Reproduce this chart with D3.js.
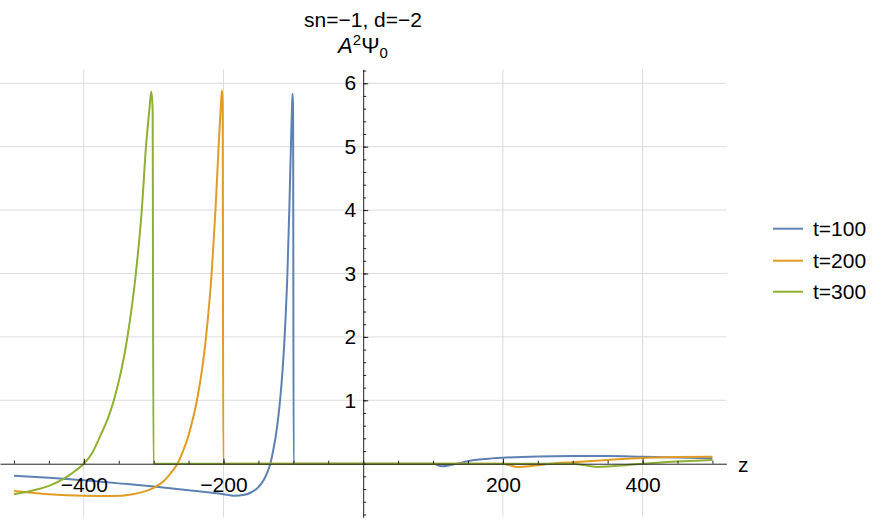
<!DOCTYPE html>
<html>
<head>
<meta charset="utf-8">
<script src="https://cdn.jsdelivr.net/npm/d3@7"></script>
<style>
  body { margin: 0; background: #fff; }
  svg { display: block; font-family: "Liberation Sans", Arial, sans-serif; }
</style>
</head>
<body>
<svg id="chart" width="882" height="521"></svg>
<script>
// series names and colours
var seriesNames = ["t=100", "t=200", "t=300"];
var seriesColors = ["#5e81b5", "#e19c24", "#8fb032"];

// t=100
var z100 = [-500, -450, -400, -350, -300, -250, -200, -185, -170, -160, -150, -142, -137, -133, -129, -125, -122, -119, -112.5, -108.5, -105.8, -103.5, -102, -101.1, -100.4, -99.6,
            0, 100, 113, 125, 134, 150, 175, 200, 250, 300, 350, 400, 450, 500];
var v100 = [-0.19, -0.22, -0.26, -0.31, -0.36, -0.42, -0.48, -0.505, -0.49, -0.45, -0.37, -0.25, -0.13, 0, 0.2, 0.45, 0.7, 1.0, 2.0, 3.0, 4.0, 5.0, 5.6, 5.84, 5.6, 0,
            0, 0, -0.04, -0.02, 0, 0.04, 0.075, 0.095, 0.115, 0.12, 0.12, 0.11, 0.1, 0.085];

// t=200
var z200 = [-500, -450, -400, -360, -330, -300, -285, -275, -266, -258, -250, -244, -238, -225, -217, -211.5, -207, -204, -202.2, -201.2, -200.3,
            0, 200, 220, 245, 268, 300, 350, 400, 450, 500];
var v200 = [-0.43, -0.48, -0.505, -0.51, -0.48, -0.38, -0.27, -0.14, 0, 0.2, 0.45, 0.7, 1.0, 2.0, 3.0, 4.0, 5.0, 5.6, 5.89, 5.65, 0,
            0, 0, -0.05, -0.03, 0, 0.025, 0.06, 0.09, 0.105, 0.11];

// t=300
var z300 = [-500, -476, -450, -425, -412, -400, -388, -376, -366, -357, -337.5, -325.5, -317, -311, -306, -303.5, -301.5, -300.3,
            0, 300, 336, 370, 400, 450, 500];
var v300 = [-0.48, -0.43, -0.35, -0.21, -0.11, 0, 0.17, 0.45, 0.7, 1.0, 2.0, 3.0, 4.0, 5.0, 5.6, 5.87, 5.6, 0,
            0, 0, -0.05, -0.03, 0, 0.035, 0.06];

// ticks
var xMajorTicks = [-400, -200, 200, 400];
var yMajorTicks = [1, 2, 3, 4, 5, 6];

var seriesZ = [z100, z200, z300];
var seriesV = [v100, v200, v300];

var svg = d3.select("#chart");

var x = d3.scaleLinear().domain([-520, 520]).range([0, 726.4]);
var y = d3.scaleLinear().domain([-0.845, 6.22]).range([517.3, 69.3]);

// grid
svg.append("g").selectAll("line").data(xMajorTicks).enter().append("line")
    .attr("x1", function(d) { return x(d); })
    .attr("x2", function(d) { return x(d); })
    .attr("y1", y.range()[1])
    .attr("y2", y.range()[0])
    .attr("stroke", "#dcdcdc")
    .attr("stroke-width", 1);

svg.append("g").selectAll("line").data(yMajorTicks).enter().append("line")
    .attr("x1", x.range()[0])
    .attr("x2", x.range()[1])
    .attr("y1", function(d) { return y(d); })
    .attr("y2", function(d) { return y(d); })
    .attr("stroke", "#dcdcdc")
    .attr("stroke-width", 1);

// curves
var line = d3.line()
    .x(function(d) { return x(d[0]); })
    .y(function(d) { return y(d[1]); })
    .curve(d3.curveMonotoneX);

seriesNames.forEach(function(name, i) {
    var pts = seriesZ[i].map(function(z, j) { return [z, seriesV[i][j]]; });
    svg.append("path")
        .datum(pts)
        .attr("d", line)
        .attr("fill", "none")
        .attr("stroke", seriesColors[i])
        .attr("stroke-width", 2)
        .attr("stroke-linejoin", "round");
});

// x axis
var x0 = y(0);
var xMinor = d3.axisBottom(x).tickValues(d3.range(-500, 501, 50)).tickFormat("")
    .tickSizeInner(-3).tickSizeOuter(0);
svg.append("g").attr("transform", "translate(0," + x0 + ")").call(xMinor)
    .call(function(g) { g.select(".domain").remove(); });

var xAxis = d3.axisBottom(x).tickValues(xMajorTicks)
    .tickFormat(function(d) { return d3.format("d")(d).replace("-", "\u2212"); })
    .tickSizeInner(-5).tickSizeOuter(0).tickPadding(13);
var gx = svg.append("g").attr("transform", "translate(0," + x0 + ")").call(xAxis);
gx.select(".domain").attr("stroke", "#222");
gx.selectAll("text").attr("font-size", 21).attr("fill", "#000")
    .attr("font-family", "Liberation Sans, Arial, sans-serif");

// y axis
var y0 = x(0);
var yMinor = d3.axisLeft(y).tickValues(d3.range(-0.8, 6.21, 0.2)).tickFormat("")
    .tickSizeInner(-3).tickSizeOuter(0);
svg.append("g").attr("transform", "translate(" + y0 + ",0)").call(yMinor)
    .call(function(g) { g.select(".domain").remove(); });

var yAxis = d3.axisLeft(y).tickValues(yMajorTicks).tickFormat(d3.format("d"))
    .tickSizeInner(-5).tickSizeOuter(0).tickPadding(7);
var gy = svg.append("g").attr("transform", "translate(" + y0 + ",0)").call(yAxis);
gy.select(".domain").attr("stroke", "#222");
gy.selectAll("text").attr("font-size", 21).attr("fill", "#000")
    .attr("font-family", "Liberation Sans, Arial, sans-serif");

svg.selectAll(".tick line").attr("stroke", "#222");

// axis label
svg.append("text").attr("x", 738).attr("y", 472).attr("font-size", 21).text("z");

// title
svg.append("text").attr("x", 363).attr("y", 26.5).attr("text-anchor", "middle")
    .attr("font-size", 21).text("sn=\u22121, d=\u22122");

var t2 = svg.append("text").attr("x", 363).attr("y", 53.3).attr("text-anchor", "middle")
    .attr("font-size", 22);
t2.append("tspan").attr("font-style", "italic").text("A");
t2.append("tspan").attr("font-size", 15).attr("dy", -8).text("2");
t2.append("tspan").attr("dy", 8).text("\u03a8");
t2.append("tspan").attr("font-size", 15).attr("dy", 5).text("0");

// legend
var legendY = [228.7, 260.7, 291.7];
var lg = svg.append("g");
seriesNames.forEach(function(name, i) {
    lg.append("line")
        .attr("x1", 773).attr("x2", 803)
        .attr("y1", legendY[i]).attr("y2", legendY[i])
        .attr("stroke", seriesColors[i]).attr("stroke-width", 2);
    lg.append("text")
        .attr("x", 813).attr("y", legendY[i] + 7.5)
        .attr("font-size", 21)
        .text(name);
});
</script>
</body>
</html>
